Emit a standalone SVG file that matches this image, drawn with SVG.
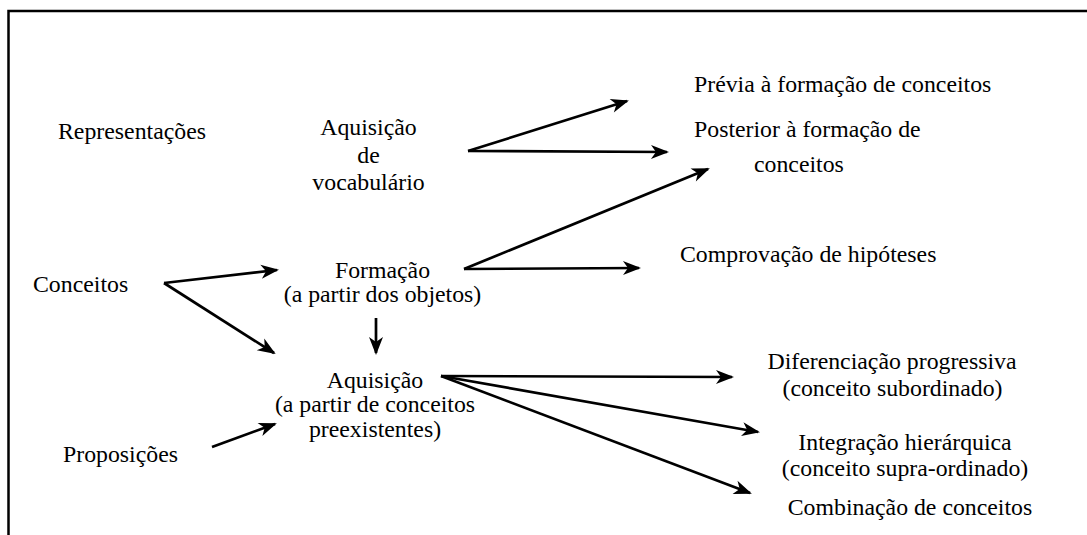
<svg xmlns="http://www.w3.org/2000/svg" width="1087" height="535" viewBox="0 0 1087 535">
<style>
text{font-family:"Liberation Serif","Times New Roman",serif;font-size:23.8px;fill:#000}
.c{text-anchor:middle}
.a{stroke:#000;stroke-width:2.7;fill:none;marker-end:url(#ah)}
</style>
<defs>
<marker id="ah" markerUnits="userSpaceOnUse" markerWidth="20" markerHeight="16" refX="16" refY="7" orient="auto" overflow="visible">
<path d="M0,0 L18,7 L0,14 L5,7 z" fill="#000"/>
</marker>
</defs>
<rect width="1087" height="535" fill="#fff"/>
<path d="M8.5,535 L8.5,11 L1087,11" stroke="#000" stroke-width="2.5" fill="none"/>
<g id="connectors">
<line class="a" x1="468" y1="151" x2="627" y2="101"/>
<line class="a" x1="468" y1="151" x2="667" y2="152"/>
<line class="a" x1="464" y1="269" x2="708" y2="169"/>
<line class="a" x1="464" y1="269" x2="639" y2="268"/>
<line class="a" x1="164" y1="283" x2="277" y2="270"/>
<line class="a" x1="164" y1="283" x2="274" y2="353"/>
<line class="a" x1="376" y1="318" x2="376" y2="353"/>
<line class="a" x1="212" y1="447" x2="275" y2="424"/>
<line class="a" x1="441" y1="376" x2="732" y2="377"/>
<line class="a" x1="441" y1="376" x2="758" y2="432"/>
<line class="a" x1="441" y1="376" x2="750" y2="493"/>
</g>
<g id="representacoes"><text x="58" y="139">Representações</text></g>
<g id="conceitos"><text x="33" y="292">Conceitos</text></g>
<g id="proposicoes"><text x="63" y="462">Proposições</text></g>
<g id="aquisicao-vocab">
<text class="c" x="368.5" y="135">Aquisição</text>
<text class="c" x="368.5" y="163">de</text>
<text class="c" x="368.5" y="190">vocabulário</text>
</g>
<g id="formacao">
<text class="c" x="382.5" y="278">Formação</text>
<text class="c" x="382.5" y="302">(a partir dos objetos)</text>
</g>
<g id="aquisicao">
<text class="c" x="375" y="388">Aquisição</text>
<text class="c" x="375" y="412">(a partir de conceitos</text>
<text class="c" x="375" y="437">preexistentes)</text>
</g>
<g id="previa"><text x="694" y="92">Prévia à formação de conceitos</text></g>
<g id="posterior">
<text x="694" y="137">Posterior à formação de</text>
<text x="754" y="172">conceitos</text>
</g>
<g id="comprovacao"><text x="680" y="262">Comprovação de hipóteses</text></g>
<g id="diferenciacao">
<text class="c" x="892" y="369">Diferenciação progressiva</text>
<text class="c" x="892.5" y="396">(conceito subordinado)</text>
</g>
<g id="integracao">
<text class="c" x="905" y="450">Integração hierárquica</text>
<text class="c" x="905" y="476">(conceito supra-ordinado)</text>
</g>
<g id="combinacao"><text class="c" x="910" y="515">Combinação de conceitos</text></g>
</svg>
